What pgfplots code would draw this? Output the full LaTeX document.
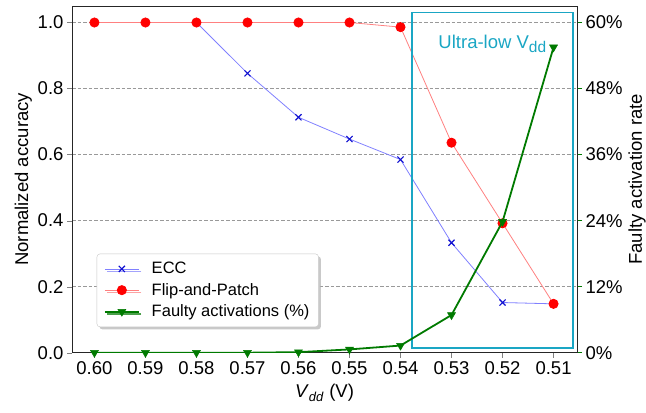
\documentclass[border=0pt]{standalone}
\usepackage{pgfplots}
\pgfplotsset{compat=1.18}
\usepackage{fontspec}
\setmainfont{Liberation Sans}
\usetikzlibrary{shadows}
\definecolor{eccline}{HTML}{8080FF}
\definecolor{eccmark}{HTML}{1010D0}
\definecolor{fpline}{HTML}{FF8080}
\definecolor{fpmark}{HTML}{FF0000}
\definecolor{fgreen}{HTML}{007A00}
\definecolor{ucyan}{HTML}{1AA6C4}
\begin{document}
\begin{tikzpicture}
\pgfplotsset{
  every axis/.append style={font=\fontsize{17}{20}\selectfont},
  /pgf/number format/assume math mode=true,
  tick label style={font=\fontsize{18.5}{21}\selectfont},
  label style={font=\fontsize{18.5}{21}\selectfont},
  tick align=outside,
  major tick length=5pt,
}
\begin{axis}[
  name=main,
  scale only axis, width=505pt, height=346.7pt,
  xmin=-0.44, xmax=9.46, ymin=0, ymax=1.05,
  xtick={0,1,2,3,4,5,6,7,8,9},
  xticklabels={0.60,0.59,0.58,0.57,0.56,0.55,0.54,0.53,0.52,0.51},
  ytick={0,0.2,0.4,0.6,0.8,1.0},
  yticklabel style={/pgf/number format/fixed,/pgf/number format/precision=1,/pgf/number format/fixed zerofill},
  xtick pos=bottom, ytick pos=left,
  ymajorgrids,
  grid style={gray!80, dash pattern=on 3.5pt off 2pt, line width=0.6pt},
  axis line style={line width=0.9pt, black!85},
  xlabel={\textit{V}\textsubscript{\textit{dd}} (V)},
  ylabel={Normalized accuracy},
  xlabel style={yshift=-3pt},
  ylabel style={yshift=-1pt},
]
\addplot[color=eccline, line width=0.8pt, mark=x, mark size=4.3pt,
  mark options={draw=eccmark, line width=1.1pt}]
  coordinates {(0,1.0) (1,1.0) (2,1.0) (3,0.846) (4,0.713) (5,0.647) (6,0.585) (7,0.333) (8,0.152) (9,0.148)};
\addplot[color=fpline, line width=0.8pt, mark=*, mark size=4.6pt,
  mark options={draw=fpmark, fill=fpmark}]
  coordinates {(0,1.0) (1,1.0) (2,1.0) (3,1.0) (4,1.0) (5,1.0) (6,0.986) (7,0.636) (8,0.392) (9,0.148)};
\draw[ucyan, line width=1.6pt] (axis cs:6.23,0.015) rectangle (axis cs:9.385,1.03);
\node[anchor=east, text=ucyan, font=\fontsize{18.5}{21}\selectfont, inner sep=0pt] at (axis cs:8.86,0.935) {Ultra-low V\raisebox{-0.35ex}{\fontsize{15.5}{17}\selectfont dd}};
\end{axis}
\begin{axis}[
  scale only axis, width=505pt, height=346.7pt,
  xmin=-0.44, xmax=9.46, ymin=0, ymax=63,
  axis x line=none,
  axis y line*=right,
  ytick={0,12,24,36,48,60},
  yticklabel={\pgfmathprintnumber{\tick}\%},
  y tick style={draw=fgreen, line width=0.9pt},
  axis line style={line width=0.9pt, black!85},
  ylabel={Faulty activation rate},
  ylabel style={yshift=1pt},
  legend style={at={(0.049,0.074)}, anchor=south west, draw=gray!45, fill=white,
    rounded corners=3pt, font=\fontsize{16.5}{19}\selectfont,
    drop shadow={shadow xshift=2.5pt, shadow yshift=-2.5pt, fill=gray!60, opacity=0.7},
    inner xsep=7pt, inner ysep=6.5pt, row sep=4pt,
    /tikz/every odd column/.style={column sep=10pt}},
  legend cell align=left,
  legend image code/.code={\draw[mark repeat=2, mark phase=2, #1] plot coordinates {(0pt,0pt) (17pt,0pt) (34pt,0pt)};},
]
\addlegendimage{color=eccline, line width=0.8pt, mark=x, mark size=4.3pt, mark options={draw=eccmark, line width=1.1pt}}
\addlegendentry{ECC}
\addlegendimage{color=fpline, line width=0.8pt, mark=*, mark size=4.6pt, mark options={draw=fpmark, fill=fpmark}}
\addlegendentry{Flip-and-Patch}
\addplot[color=fgreen, line width=1.8pt, mark=triangle*, mark size=4.6pt,
  mark options={rotate=180, fill=fgreen, draw=fgreen, line width=0.5pt}]
  coordinates {(0,0.0) (1,0.0) (2,0.0) (3,0.0) (4,0.1) (5,0.6) (6,1.3) (7,6.85) (8,23.8) (9,55.5)};
\addlegendentry{Faulty activations (\%)}
\end{axis}
\pgfresetboundingbox
\path[use as bounding box] ([shift={(-72pt,-59.3pt)}]main.south west) rectangle ([shift={(69pt,6pt)}]main.north east);
\end{tikzpicture}
\end{document}
